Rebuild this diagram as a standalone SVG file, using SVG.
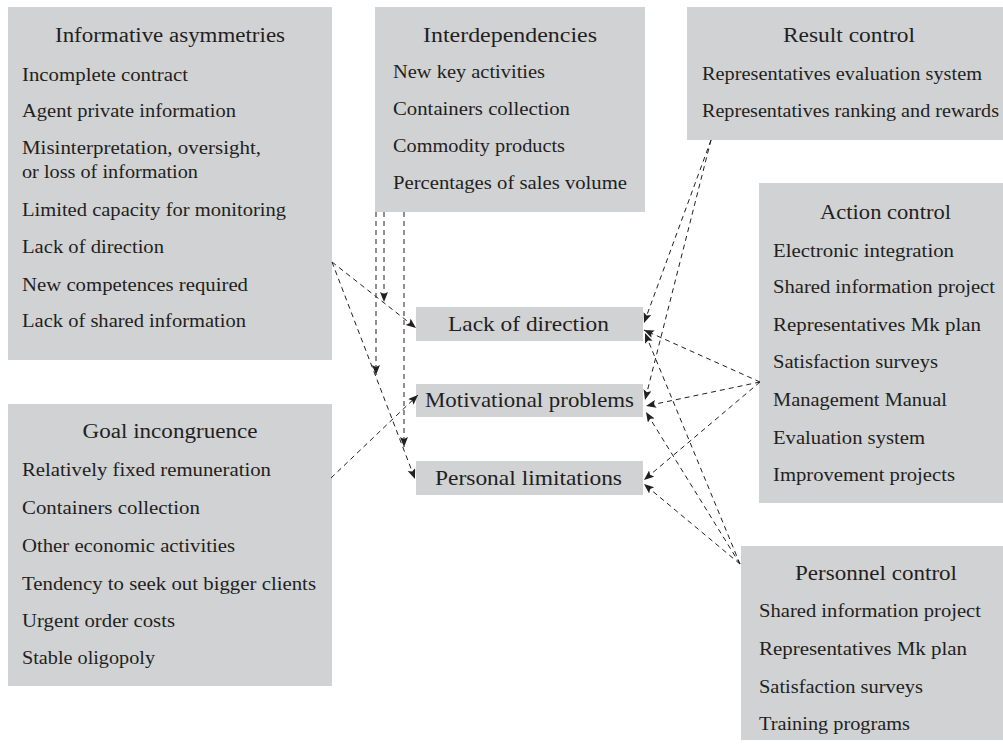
<svg xmlns="http://www.w3.org/2000/svg" width="1003" height="746" viewBox="0 0 1003 746">
<defs>
<style>
.box{fill:#d1d2d4}
.tx{font-family:'Liberation Serif', 'Times New Roman', serif;font-size:19.5px;fill:#231f20}
.t{text-anchor:middle;font-size:20px}
.c{text-anchor:middle;font-size:21.5px}
.ln{fill:none;stroke:#231f20;stroke-width:1;stroke-dasharray:5 4}
</style>
<marker id="ah" markerUnits="userSpaceOnUse" markerWidth="12" markerHeight="10" refX="10" refY="4" orient="auto">
<path d="M0,0 L10,4 L0,8 L2,4 Z" fill="#231f20"/>
</marker>
</defs>
<rect width="1003" height="746" fill="#ffffff"/>

<g id="informative-asymmetries" class="tx">
<rect class="box" x="8" y="7" width="324" height="353"/>
<text class="t" x="170" y="42" textLength="230" lengthAdjust="spacingAndGlyphs">Informative asymmetries</text>
<text x="22" y="81" textLength="166" lengthAdjust="spacingAndGlyphs">Incomplete contract</text>
<text x="22" y="117" textLength="214" lengthAdjust="spacingAndGlyphs">Agent private information</text>
<text x="22" y="154" textLength="239" lengthAdjust="spacingAndGlyphs">Misinterpretation, oversight,</text>
<text x="22" y="178" textLength="176" lengthAdjust="spacingAndGlyphs">or loss of information</text>
<text x="22" y="216" textLength="264" lengthAdjust="spacingAndGlyphs">Limited capacity for monitoring</text>
<text x="22" y="253" textLength="142" lengthAdjust="spacingAndGlyphs">Lack of direction</text>
<text x="22" y="291" textLength="226" lengthAdjust="spacingAndGlyphs">New competences required</text>
<text x="22" y="327" textLength="224" lengthAdjust="spacingAndGlyphs">Lack of shared information</text>
</g>

<g id="interdependencies" class="tx">
<rect class="box" x="375" y="7" width="270" height="205"/>
<text class="t" x="510" y="42" textLength="174" lengthAdjust="spacingAndGlyphs">Interdependencies</text>
<text x="393" y="78" textLength="152" lengthAdjust="spacingAndGlyphs">New key activities</text>
<text x="393" y="115" textLength="177" lengthAdjust="spacingAndGlyphs">Containers collection</text>
<text x="393" y="152" textLength="172" lengthAdjust="spacingAndGlyphs">Commodity products</text>
<text x="393" y="189" textLength="234" lengthAdjust="spacingAndGlyphs">Percentages of sales volume</text>
</g>

<g id="result-control" class="tx">
<rect class="box" x="687" y="7" width="325" height="133"/>
<text class="t" x="849" y="42" textLength="132" lengthAdjust="spacingAndGlyphs">Result control</text>
<text x="702" y="80" textLength="280" lengthAdjust="spacingAndGlyphs">Representatives evaluation system</text>
<text x="702" y="117" textLength="297" lengthAdjust="spacingAndGlyphs">Representatives ranking and rewards</text>
</g>

<g id="action-control" class="tx">
<rect class="box" x="759" y="183" width="253" height="320"/>
<text class="t" x="885.5" y="219" textLength="131" lengthAdjust="spacingAndGlyphs">Action control</text>
<text x="773" y="257" textLength="181" lengthAdjust="spacingAndGlyphs">Electronic integration</text>
<text x="773" y="293" textLength="222" lengthAdjust="spacingAndGlyphs">Shared information project</text>
<text x="773" y="331" textLength="208" lengthAdjust="spacingAndGlyphs">Representatives Mk plan</text>
<text x="773" y="368" textLength="165" lengthAdjust="spacingAndGlyphs">Satisfaction surveys</text>
<text x="773" y="406" textLength="174" lengthAdjust="spacingAndGlyphs">Management Manual</text>
<text x="773" y="444" textLength="152" lengthAdjust="spacingAndGlyphs">Evaluation system</text>
<text x="773" y="481" textLength="182" lengthAdjust="spacingAndGlyphs">Improvement projects</text>
</g>

<g id="personnel-control" class="tx">
<rect class="box" x="741" y="546" width="271" height="194"/>
<text class="t" x="876" y="580" textLength="162" lengthAdjust="spacingAndGlyphs">Personnel control</text>
<text x="759" y="617" textLength="222" lengthAdjust="spacingAndGlyphs">Shared information project</text>
<text x="759" y="655" textLength="208" lengthAdjust="spacingAndGlyphs">Representatives Mk plan</text>
<text x="759" y="693" textLength="164" lengthAdjust="spacingAndGlyphs">Satisfaction surveys</text>
<text x="759" y="730" textLength="151" lengthAdjust="spacingAndGlyphs">Training programs</text>
</g>

<g id="goal-incongruence" class="tx">
<rect class="box" x="8" y="404" width="324" height="282"/>
<text class="t" x="170" y="438" textLength="175" lengthAdjust="spacingAndGlyphs">Goal incongruence</text>
<text x="22" y="476" textLength="249" lengthAdjust="spacingAndGlyphs">Relatively fixed remuneration</text>
<text x="22" y="514" textLength="178" lengthAdjust="spacingAndGlyphs">Containers collection</text>
<text x="22" y="552" textLength="213" lengthAdjust="spacingAndGlyphs">Other economic activities</text>
<text x="22" y="590" textLength="294" lengthAdjust="spacingAndGlyphs">Tendency to seek out bigger clients</text>
<text x="22" y="627" textLength="153" lengthAdjust="spacingAndGlyphs">Urgent order costs</text>
<text x="22" y="664" textLength="133" lengthAdjust="spacingAndGlyphs">Stable oligopoly</text>
</g>

<g id="lack-of-direction" class="tx">
<rect class="box" x="416" y="307" width="227" height="34"/>
<text class="c" x="528.5" y="331" textLength="161" lengthAdjust="spacingAndGlyphs">Lack of direction</text>
</g>

<g id="motivational-problems" class="tx">
<rect class="box" x="416" y="384" width="227" height="33"/>
<text class="c" x="529.5" y="407" textLength="209" lengthAdjust="spacingAndGlyphs">Motivational problems</text>
</g>

<g id="personal-limitations" class="tx">
<rect class="box" x="416" y="461" width="227" height="34"/>
<text class="c" x="528.5" y="485" textLength="187" lengthAdjust="spacingAndGlyphs">Personal limitations</text>
</g>

<g id="connectors">
<line class="ln" x1="332" y1="262" x2="416" y2="328" marker-end="url(#ah)"/>
<line class="ln" x1="332" y1="262" x2="415" y2="479" marker-end="url(#ah)"/>
<line class="ln" x1="331" y1="478" x2="418" y2="395" marker-end="url(#ah)"/>
<line class="ln" x1="376" y1="212" x2="376" y2="375" marker-end="url(#ah)"/>
<line class="ln" x1="384" y1="212" x2="384" y2="302" marker-end="url(#ah)"/>
<line class="ln" x1="404" y1="212" x2="404" y2="447" marker-end="url(#ah)"/>
<line class="ln" x1="711" y1="140" x2="644" y2="323" marker-end="url(#ah)"/>
<line class="ln" x1="711" y1="140" x2="645" y2="400" marker-end="url(#ah)"/>
<line class="ln" x1="760" y1="382" x2="644" y2="330" marker-end="url(#ah)"/>
<line class="ln" x1="760" y1="382" x2="646" y2="406" marker-end="url(#ah)"/>
<line class="ln" x1="760" y1="382" x2="644" y2="480" marker-end="url(#ah)"/>
<line class="ln" x1="740" y1="564" x2="645" y2="333" marker-end="url(#ah)"/>
<line class="ln" x1="740" y1="564" x2="646" y2="412" marker-end="url(#ah)"/>
<line class="ln" x1="740" y1="564" x2="644" y2="484" marker-end="url(#ah)"/>
</g>
</svg>
